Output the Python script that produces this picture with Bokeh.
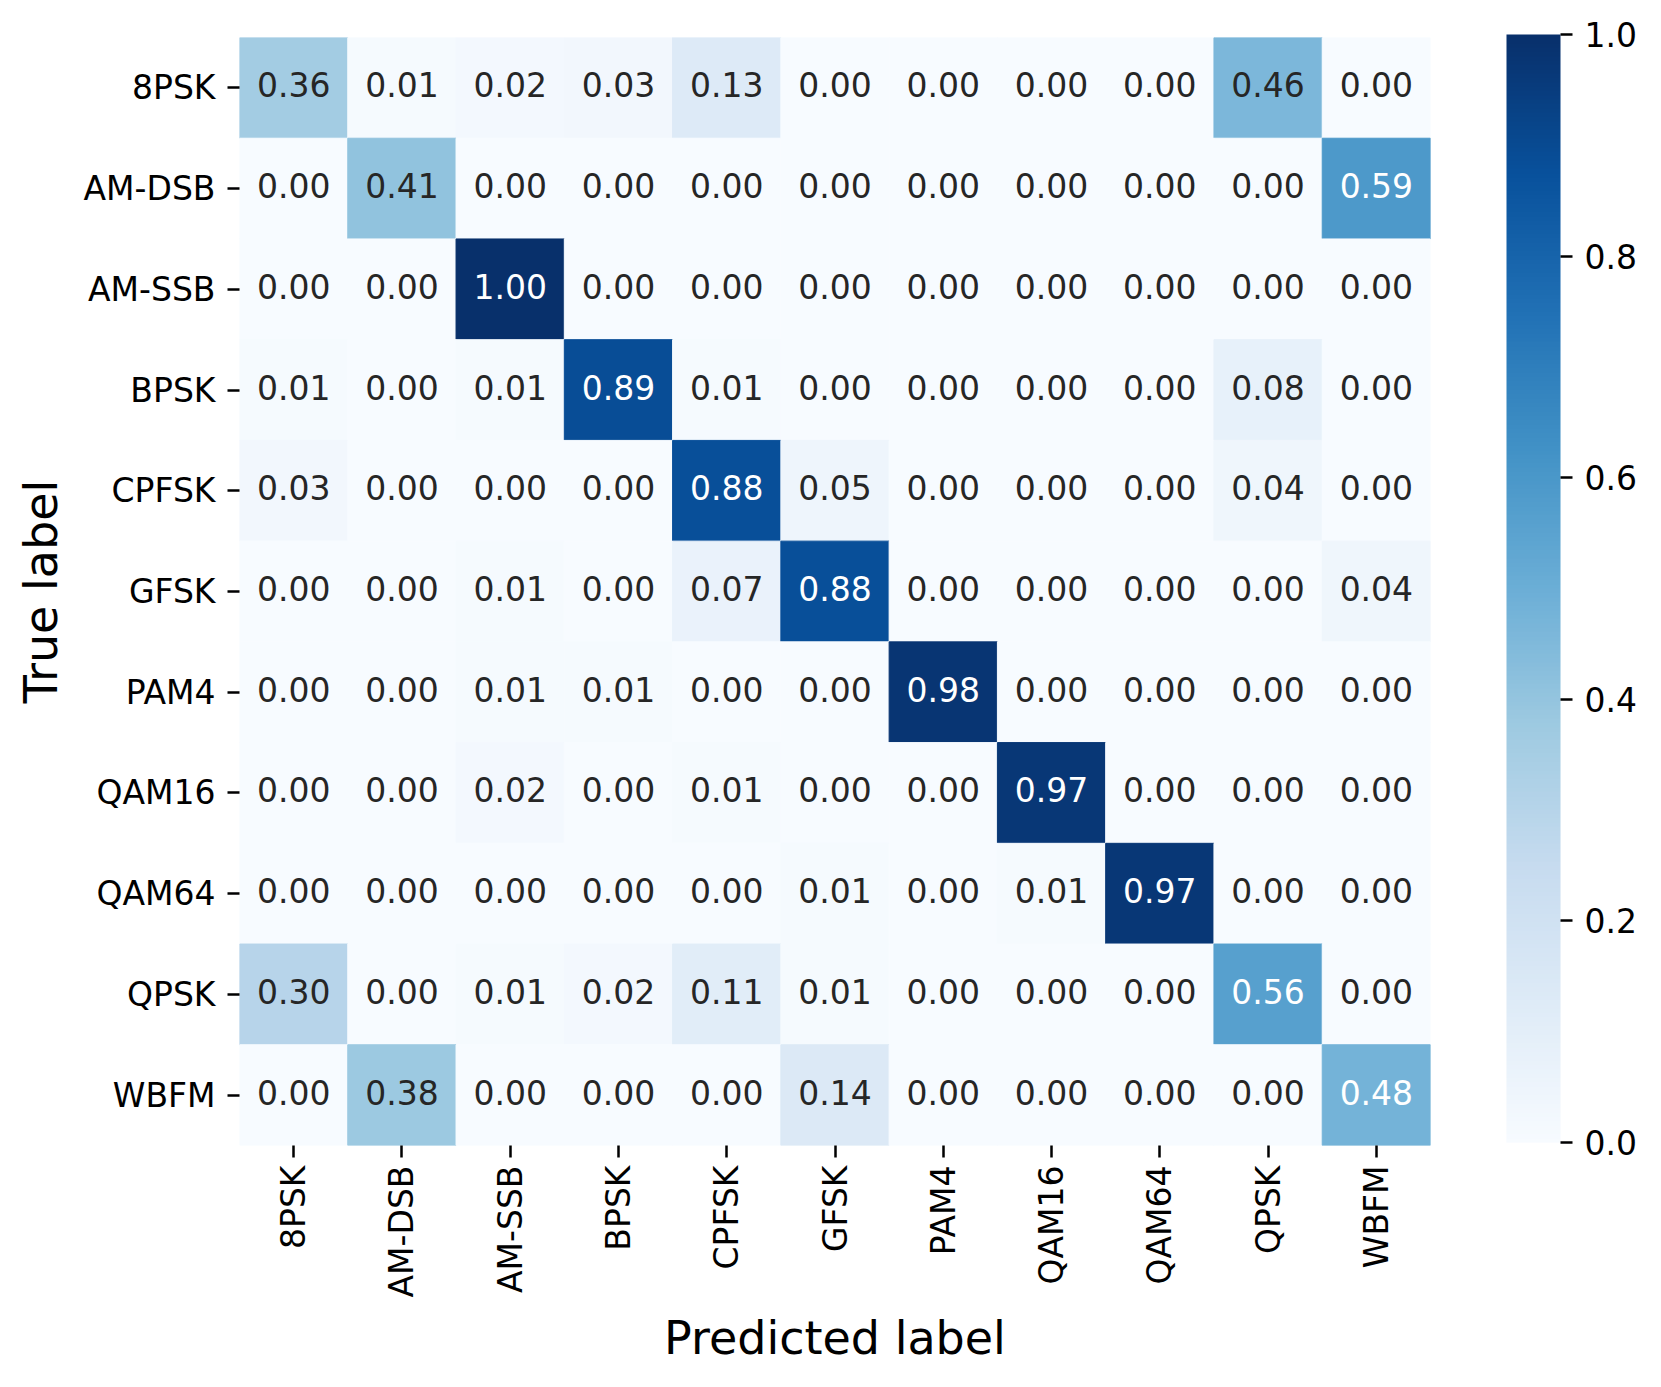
import math
from bokeh.plotting import figure
from bokeh.models import (ColumnDataSource, LinearColorMapper, ColorBar, FixedTicker,
                          PrintfTickFormatter, FactorRange)
from bokeh.palettes import Blues256
from bokeh.core.properties import value
from bokeh.transform import transform
from bokeh.embed import file_html
from bokeh.resources import INLINE

# ---- data ----
labels = ["8PSK", "AM-DSB", "AM-SSB", "BPSK", "CPFSK", "GFSK", "PAM4",
          "QAM16", "QAM64", "QPSK", "WBFM"]

row_8psk   = [0.36, 0.01, 0.02, 0.03, 0.13, 0.00, 0.00, 0.00, 0.00, 0.46, 0.00]
row_amdsb  = [0.00, 0.41, 0.00, 0.00, 0.00, 0.00, 0.00, 0.00, 0.00, 0.00, 0.59]
row_amssb  = [0.00, 0.00, 1.00, 0.00, 0.00, 0.00, 0.00, 0.00, 0.00, 0.00, 0.00]
row_bpsk   = [0.01, 0.00, 0.01, 0.89, 0.01, 0.00, 0.00, 0.00, 0.00, 0.08, 0.00]
row_cpfsk  = [0.03, 0.00, 0.00, 0.00, 0.88, 0.05, 0.00, 0.00, 0.00, 0.04, 0.00]
row_gfsk   = [0.00, 0.00, 0.01, 0.00, 0.07, 0.88, 0.00, 0.00, 0.00, 0.00, 0.04]
row_pam4   = [0.00, 0.00, 0.01, 0.01, 0.00, 0.00, 0.98, 0.00, 0.00, 0.00, 0.00]
row_qam16  = [0.00, 0.00, 0.02, 0.00, 0.01, 0.00, 0.00, 0.97, 0.00, 0.00, 0.00]
row_qam64  = [0.00, 0.00, 0.00, 0.00, 0.00, 0.01, 0.00, 0.01, 0.97, 0.00, 0.00]
row_qpsk   = [0.30, 0.00, 0.01, 0.02, 0.11, 0.01, 0.00, 0.00, 0.00, 0.56, 0.00]
row_wbfm   = [0.00, 0.38, 0.00, 0.00, 0.00, 0.14, 0.00, 0.00, 0.00, 0.00, 0.48]

rows = [row_8psk, row_amdsb, row_amssb, row_bpsk, row_cpfsk, row_gfsk,
        row_pam4, row_qam16, row_qam64, row_qpsk, row_wbfm]

cbar_ticks = [0.0, 0.2, 0.4, 0.6, 0.8, 1.0]

# ---- build table ----
xs, ys, vals, txt, tcol = [], [], [], [], []
for true_lab, r in zip(labels, rows):
    for pred_lab, v in zip(labels, r):
        xs.append(pred_lab)
        ys.append(true_lab)
        vals.append(v)
        txt.append(f"{v:.2f}")
        tcol.append("#ffffff" if v > 0.47 else "#262626")

src = ColumnDataSource(dict(x=xs, y=ys, v=vals, t=txt, c=tcol))

palette = list(Blues256)[::-1]
mapper = LinearColorMapper(palette=palette, low=0.0, high=1.0)

FONT = "DejaVu Sans"

p = figure(frame_width=1191, frame_height=1108,
           x_range=FactorRange(*labels),
           y_range=FactorRange(*labels[::-1]),
           output_backend="svg", toolbar_location=None,
           min_border_left=239, min_border_right=215,
           min_border_top=37, min_border_bottom=226)

p.rect(x="x", y="y", width=1, height=1, source=src,
       fill_color=transform("v", mapper), line_color=transform("v", mapper),
       line_width=1)

p.text(x="x", y="y", text="t", source=src, text_color="c",
       text_align="center", text_baseline="middle", y_offset=-3,
       text_font=value(FONT), text_font_size="33px")

p.outline_line_color = None
p.xgrid.grid_line_color = None
p.ygrid.grid_line_color = None
p.background_fill_color = "white"
p.border_fill_color = "white"

for ax in (p.xaxis[0], p.yaxis[0]):
    ax.axis_line_color = None
    ax.major_tick_in = 0
    ax.major_tick_out = 12
    ax.major_tick_line_width = 2.5
    ax.major_tick_line_color = "black"
    ax.major_label_text_font = FONT
    ax.major_label_text_font_size = "33px"
    ax.major_label_text_color = "black"
    ax.axis_label_text_font = FONT
    ax.axis_label_text_font_size = "46px"
    ax.axis_label_text_font_style = "normal"
    ax.axis_label_text_color = "black"

p.xaxis.axis_label = "Predicted label"
p.yaxis.axis_label = "True label"
p.xaxis.major_label_orientation = math.pi / 2
p.xaxis.major_label_standoff = 8
p.yaxis.major_label_standoff = 12
p.xaxis.axis_label_standoff = 11
p.yaxis.axis_label_standoff = 13

cb = ColorBar(color_mapper=mapper, width=54, height=1108,
              ticker=FixedTicker(ticks=cbar_ticks),
              formatter=PrintfTickFormatter(format="%.1f"),
              major_tick_in=0, major_tick_out=12,
              major_tick_line_color="black", major_tick_line_width=2.5,
              major_label_text_font=FONT, major_label_text_font_size="33px",
              major_label_text_color="black",
              label_standoff=12,
              bar_line_color=None, border_line_color=None,
              background_fill_alpha=0.0,
              margin=0, padding=0, location=(1267, 3))
p.add_layout(cb, "center")

open("out.html", "w").write(file_html(p, INLINE))
